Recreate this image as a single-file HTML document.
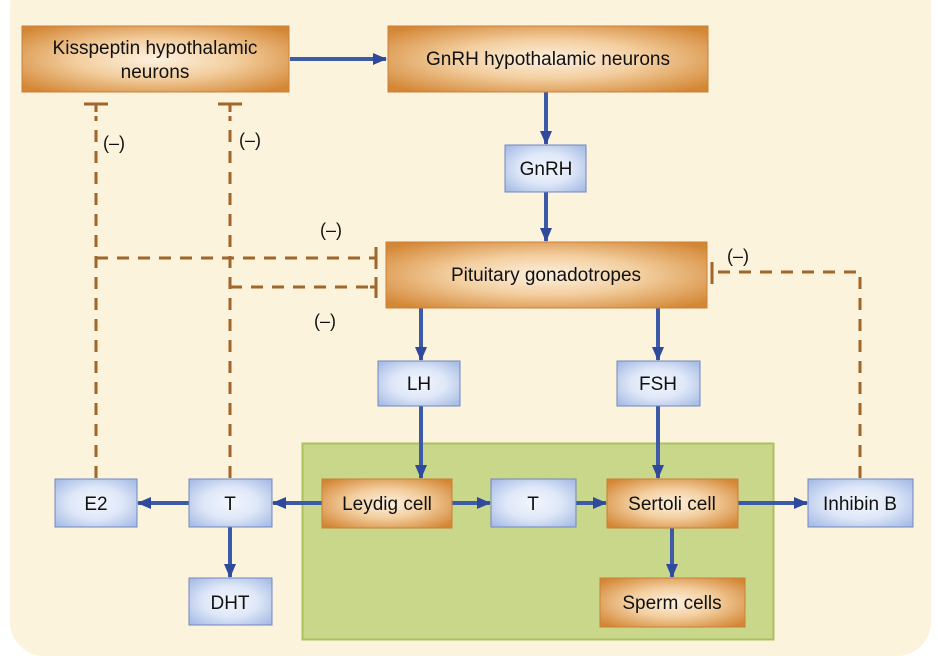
<!DOCTYPE html>
<html><head><meta charset="utf-8"><style>
html,body{margin:0;padding:0;background:#fff;}
svg{display:block;font-family:"Liberation Sans",sans-serif;}
</style></head><body>
<svg width="938" height="656" viewBox="0 0 938 656">
<defs>
<radialGradient id="og" cx="50%" cy="50%" r="65%">
<stop offset="0" stop-color="#fdf1e0"/><stop offset="0.45" stop-color="#f3cfa0"/><stop offset="1" stop-color="#d38634"/>
</radialGradient>
<radialGradient id="bg" cx="50%" cy="50%" r="65%">
<stop offset="0" stop-color="#f2f6fd"/><stop offset="0.5" stop-color="#dfe8f8"/><stop offset="1" stop-color="#a9bde6"/>
</radialGradient>
<marker id="ah" markerWidth="14" markerHeight="12" refX="13" refY="6" orient="auto" markerUnits="userSpaceOnUse">
<path d="M0,0 L14,6 L0,12 Z" fill="#2f4a9c"/>
</marker>
</defs>
<rect x="10" y="-30" width="921" height="686" rx="34" fill="#fbf3dc"/>
<rect x="302.5" y="443.5" width="471" height="196" fill="#c9d78b" stroke="#a9c15e" stroke-width="2"/>

<g stroke="#a0662a" stroke-width="3" stroke-dasharray="12 9" fill="none">
<path d="M96,478 V116"/><path d="M230,478 V116"/>
<path d="M96,258 H370"/><path d="M230,287 H370"/>
<path d="M860,478 V272 H716"/>
</g>
<g stroke="#a0662a" stroke-width="3">
<path d="M84,104 H108 M96,104 V112"/><path d="M218,104 H242 M230,104 V112"/>
<path d="M376,247 V269 M370,258 H376"/><path d="M376,277 V298 M370,287 H376"/>
<path d="M712,262 V284"/>
</g>
<g font-size="18" fill="#111">
<text x="103" y="149">(–)</text><text x="239" y="146">(–)</text>
<text x="320" y="236">(–)</text><text x="314" y="327">(–)</text><text x="727" y="262">(–)</text>
</g>

<g stroke="#3d5aa8" stroke-width="4" marker-end="url(#ah)">
<line x1="290" y1="59" x2="386" y2="59"/>
<line x1="546" y1="92" x2="546" y2="144"/>
<line x1="546" y1="192" x2="546" y2="241"/>
<line x1="421" y1="308" x2="421" y2="360"/>
<line x1="658" y1="308" x2="658" y2="360"/>
<line x1="421" y1="406" x2="421" y2="478"/>
<line x1="658" y1="406" x2="658" y2="478"/>
<line x1="452" y1="503" x2="490" y2="503"/>
<line x1="576" y1="503" x2="606" y2="503"/>
<line x1="738" y1="503" x2="807" y2="503"/>
<line x1="322" y1="503" x2="273" y2="503"/>
<line x1="189" y1="503" x2="138" y2="503"/>
<line x1="230" y1="527" x2="230" y2="577"/>
<line x1="672" y1="528" x2="672" y2="577"/>
</g>

<g font-size="19" fill="#111" text-anchor="middle">
<g><rect x="22" y="26" width="267" height="66" fill="url(#og)" stroke="#c9803a"/><text x="155" y="54">Kisspeptin hypothalamic</text><text x="155" y="78">neurons</text></g>
<g><rect x="388" y="26" width="320" height="66" fill="url(#og)" stroke="#c9803a"/><text x="548" y="65">GnRH hypothalamic neurons</text></g>
<g><rect x="505" y="145" width="81" height="47" fill="url(#bg)" stroke="#6f87c0"/><text x="546" y="175">GnRH</text></g>
<g><rect x="386" y="242" width="321" height="66" fill="url(#og)" stroke="#c9803a"/><text x="546" y="281">Pituitary gonadotropes</text></g>
<g><rect x="378" y="361" width="82" height="45" fill="url(#bg)" stroke="#6f87c0"/><text x="419" y="390">LH</text></g>
<g><rect x="617" y="361" width="83" height="45" fill="url(#bg)" stroke="#6f87c0"/><text x="658" y="390">FSH</text></g>
<g><rect x="322" y="479" width="130" height="49" fill="url(#og)" stroke="#c9803a"/><text x="387" y="510">Leydig cell</text></g>
<g><rect x="491" y="479" width="85" height="48" fill="url(#bg)" stroke="#6f87c0"/><text x="533" y="510">T</text></g>
<g><rect x="607" y="479" width="131" height="49" fill="url(#og)" stroke="#c9803a"/><text x="672" y="510">Sertoli cell</text></g>
<g><rect x="600" y="578" width="145" height="49" fill="url(#og)" stroke="#c9803a"/><text x="672" y="609">Sperm cells</text></g>
<g><rect x="55" y="479" width="82" height="48" fill="url(#bg)" stroke="#6f87c0"/><text x="96" y="510">E2</text></g>
<g><rect x="189" y="479" width="83" height="48" fill="url(#bg)" stroke="#6f87c0"/><text x="230" y="510">T</text></g>
<g><rect x="189" y="578" width="83" height="47" fill="url(#bg)" stroke="#6f87c0"/><text x="230" y="609">DHT</text></g>
<g><rect x="808" y="479" width="105" height="48" fill="url(#bg)" stroke="#6f87c0"/><text x="860" y="510">Inhibin B</text></g>
</g>
</svg>
</body></html>
